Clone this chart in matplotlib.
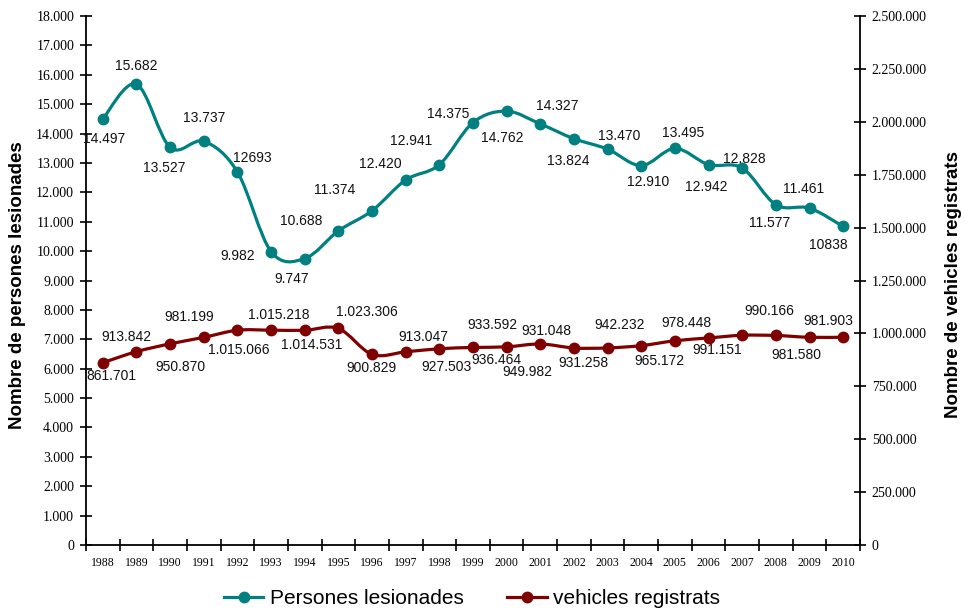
import numpy as np
import matplotlib
matplotlib.use('Agg')
import matplotlib.pyplot as plt
from matplotlib.path import Path
from matplotlib.patches import PathPatch
from matplotlib.lines import Line2D
from matplotlib.ticker import FuncFormatter, MultipleLocator

years = list(range(1988, 2011))
lesionades = [14497, 15682, 13527, 13737, 12693, 9982, 9747, 10688, 11374, 12420, 12941,
              14375, 14762, 14327, 13824, 13470, 12910, 13495, 12942, 12828, 11577, 11461, 10838]
vehicles = [861701, 913842, 950870, 981199, 1015066, 1015218, 1014531, 1023306, 900829,
            913047, 927503, 933592, 936464, 949982, 931048, 931258, 942232, 965172, 978448,
            991151, 990166, 981580, 981903]
# labels printed without thousands separator in the original
no_sep_years = [1992, 2010]

TEAL = '#008080'
MAROON = '#800000'

# label offsets in pixels (dx, dy), y down as in the picture
off_les = [(1, 20), (0, -18), (-6, 21), (0, -23), (15, -14), (-33, 4), (-13, 20), (-37, -10),
           (-37, -21), (-25, -16), (-28, -24), (-25, -9), (-4, 27), (17, -18), (-6, 22),
           (12, -13), (7, 16), (8, -15), (-2, 22), (2, -9), (-6, 18), (-6, -19), (-15, 19)]
off_veh = [(9, 13), (-10, -15), (10, 23), (-15, -20), (1, 20), (8, -15), (7, 15), (28, -16),
           (-1, 14), (18, -15), (7, 18), (19, -22), (-10, 13), (-13, 28), (-28, -17),
           (-24, 15), (-22, -21), (-15, 20), (-22, -15), (-25, 15), (-7, -24), (-13, 18),
           (-15, -16)]


def dotfmt(v, pos=None):
    return f"{v:,.0f}".replace(',', '.')


def smooth_path(x, y):
    # Excel style smoothed line: cubic Bezier through every point
    x = np.asarray(x, float)
    y = np.asarray(y, float)
    n = len(x)
    verts = [(x[0], y[0])]
    codes = [Path.MOVETO]
    for i in range(n - 1):
        a = max(i - 1, 0)
        b = min(i + 2, n - 1)
        c1 = (x[i] + (x[i + 1] - x[a]) / 6, y[i] + (y[i + 1] - y[a]) / 6)
        c2 = (x[i + 1] - (x[b] - x[i]) / 6, y[i + 1] - (y[b] - y[i]) / 6)
        verts += [c1, c2, (x[i + 1], y[i + 1])]
        codes += [Path.CURVE4] * 3
    return Path(verts, codes)


W, H = 965, 611
fig = plt.figure(figsize=(W / 100, H / 100), dpi=100)
ax = fig.add_axes([86 / W, 1 - 545 / H, (860 - 86) / W, (545 - 16) / H])
ax2 = ax.twinx()

x = np.arange(len(years))

ax.add_patch(PathPatch(smooth_path(x, lesionades), facecolor='none', edgecolor=TEAL, lw=2.3,
                       capstyle='round', joinstyle='round', zorder=3))
ax.plot(x, lesionades, 'o', color=TEAL, ms=7.5, zorder=4)
ax2.add_patch(PathPatch(smooth_path(x, vehicles), facecolor='none', edgecolor=MAROON, lw=2.3,
                        capstyle='round', joinstyle='round', zorder=3))
ax2.plot(x, vehicles, 'o', color=MAROON, ms=7.5, zorder=4)

lab_font = dict(family='Liberation Sans', size=10, color='#111111', ha='center', va='center')
for i, (yr, v) in enumerate(zip(years, lesionades)):
    txt = str(v) if yr in no_sep_years else dotfmt(v)
    dx, dy = off_les[i]
    ax.annotate(txt, (x[i], v), xytext=(dx, -dy), textcoords='offset pixels', **lab_font)
for i, v in enumerate(vehicles):
    dx, dy = off_veh[i]
    ax2.annotate(dotfmt(v), (x[i], v), xytext=(dx, -dy), textcoords='offset pixels', **lab_font)

ax.set_xlim(-0.5, len(years) - 0.5)
ax.set_ylim(0, 18000)
ax2.set_ylim(0, 2500000)
ax.yaxis.set_major_locator(MultipleLocator(1000))
ax2.yaxis.set_major_locator(MultipleLocator(250000))
ax.yaxis.set_major_formatter(FuncFormatter(dotfmt))
ax2.yaxis.set_major_formatter(FuncFormatter(dotfmt))

ax.set_xticks(np.arange(-0.5, len(years), 1))
ax.set_xticklabels([])
ax.set_xticks(x, minor=True)
ax.set_xticklabels([str(y) for y in years], minor=True, family='Liberation Serif', fontsize=8.5)
ax.tick_params(axis='x', which='major', direction='inout', length=8, width=1.2)
ax.tick_params(axis='x', which='minor', length=0, pad=9)
ax.tick_params(axis='y', direction='inout', length=9, width=1.2, pad=4)
ax2.tick_params(axis='y', direction='inout', length=9, width=1.2, pad=4)
for lab in ax.get_yticklabels() + ax2.get_yticklabels():
    lab.set_family('Liberation Serif')
    lab.set_fontsize(10)

for a in (ax, ax2):
    a.spines['top'].set_visible(False)
    for s in ('left', 'right', 'bottom'):
        a.spines[s].set_linewidth(1.3)
ax.spines['right'].set_visible(False)
ax2.spines['left'].set_visible(False)
ax2.spines['bottom'].set_visible(False)

fig.text(18 / W, 1 - 285 / H, 'Nombre de persones lesionades', rotation=90, ha='center',
         va='center', family='Liberation Sans', fontweight='bold', fontsize=13.5)
fig.text(954 / W, 1 - 285 / H, 'Nombre de vehicles registrats', rotation=90, ha='center',
         va='center', family='Liberation Sans', fontweight='bold', fontsize=13.5)

handles = [Line2D([], [], color=TEAL, lw=2.3, marker='o', ms=7.5),
           Line2D([], [], color=MAROON, lw=2.3, marker='o', ms=7.5)]
fig.legend(handles, ['Persones lesionades', 'vehicles registrats'], loc='center',
           bbox_to_anchor=(472 / W, 1 - 599 / H), ncol=2, frameon=False,
           prop={'family': 'Liberation Sans', 'size': 15}, handlelength=1.9,
           handletextpad=0.3, columnspacing=2.1)

fig.savefig('out.png', dpi=100)
